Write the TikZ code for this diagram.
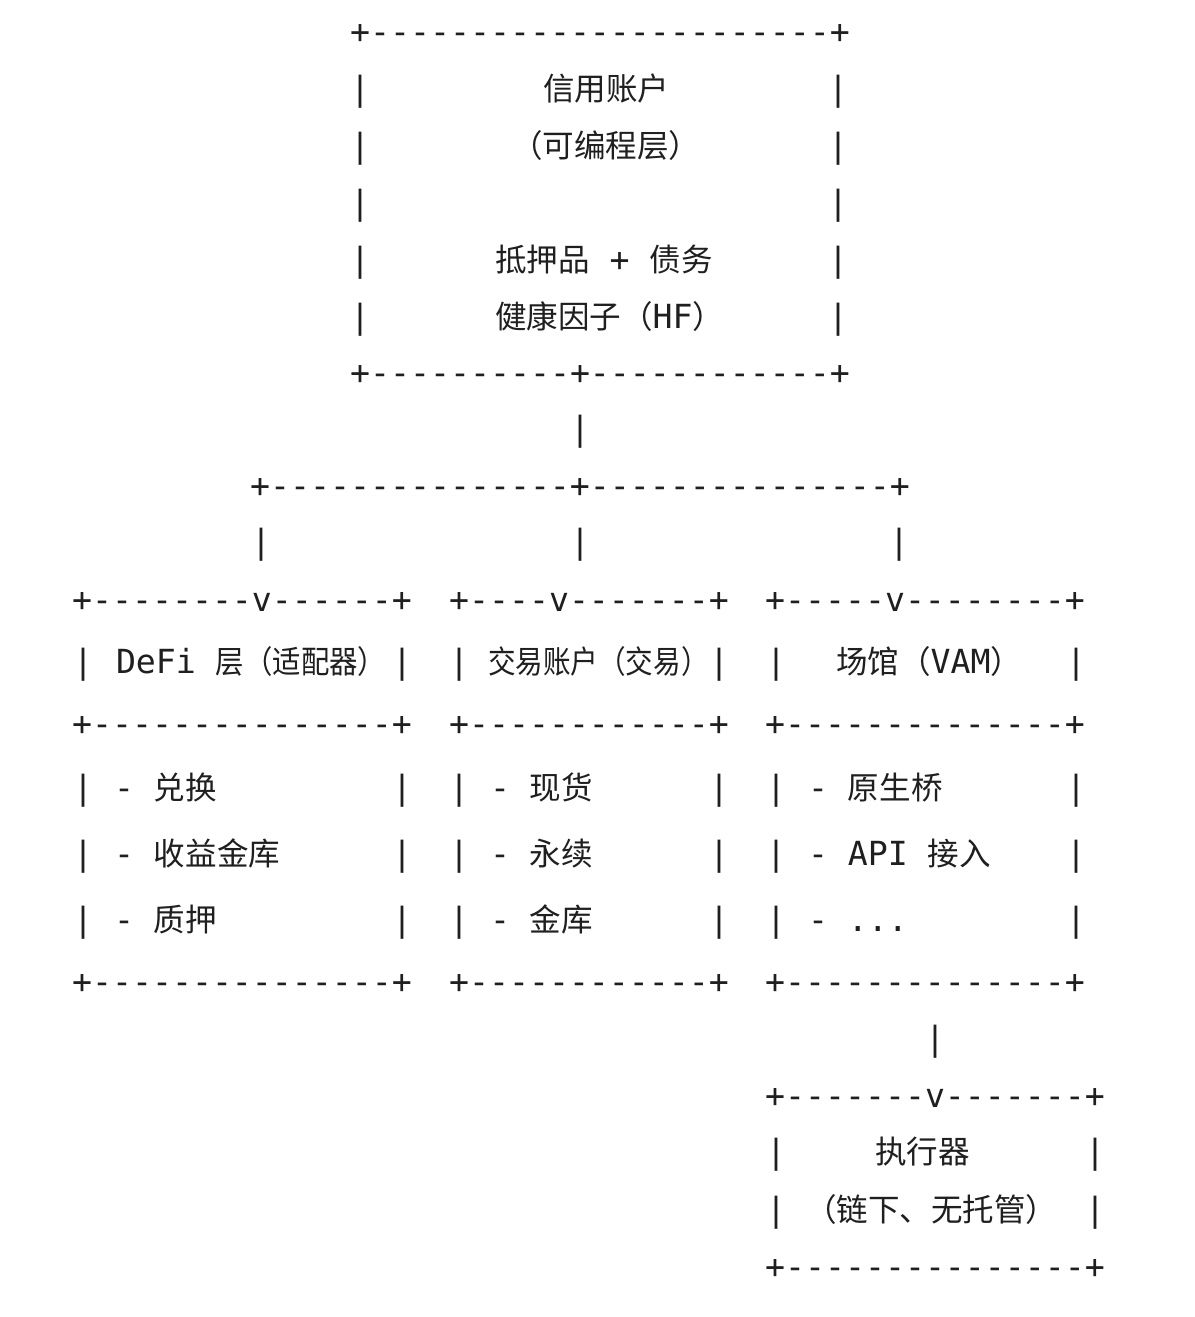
\documentclass[tikz,border=0pt]{standalone}
\usepackage{fontspec}
\usepackage{graphicx}
\setmonofont{DejaVu Sans Mono}
\newfontfamily\cjk[Scale=0.95]{Noto Sans CJK SC}
\newcommand{\zh}[1]{{\cjk #1}}

\tikzstyle{ascii}=[font=\ttfamily\fontsize{16.6}{20}\selectfont, text=black!88, inner sep=0pt, outer sep=0pt, anchor=base, yshift=-5pt]
\tikzstyle{vbar}=[ascii]
\tikzstyle{txt}=[ascii, anchor=base west]

\begin{document}
\begin{tikzpicture}[x=0.5pt, y=-0.5pt]
    \path[use as bounding box, fill=white] (0,0) rectangle (1194,1317);
    % First the dashed rows of the boxes
    \foreach \pos/\name/\s in {{(600,33)/top/+-----------------------+},
                               {(600,374)/mid/+----------+------------+},
                               {(580,487)/fork/+---------------+---------------+},
                               {(242,601)/defiT/+--------v------+},
                               {(589,601)/tradeT/+----v-------+},
                               {(925,601)/venueT/+-----v--------+},
                               {(242,725)/defiM/+---------------+},
                               {(589,725)/tradeM/+------------+},
                               {(925,725)/venueM/+--------------+},
                               {(242,983)/defiB/+---------------+},
                               {(589,983)/tradeB/+------------+},
                               {(925,983)/venueB/+--------------+},
                               {(935,1097)/execT/+-------v-------+},
                               {(935,1268)/execB/+---------------+}}
        \node[ascii] (\name) at \pos {\s};
    % Side bars
    \foreach \y in {90,147,204,261,318}
        \foreach \x in {360,838}
            \node[vbar] (v\x-\y) at (\x,\y) {|};
    \node[vbar] (stem) at (580,430) {|};
    \foreach \x in {261,580,899}
        \node[vbar] (leg\x) at (\x,543) {|};
    \foreach \y in {663,789,855,921}
        \foreach \x in {83,402,459,719,776,1076}
            \node[vbar] (v\x-\y) at (\x,\y) {|};
    \node[vbar] (down) at (935,1040) {|};
    \foreach \y in {1153,1211}
        \foreach \x in {776,1095}
            \node[vbar] (v\x-\y) at (\x,\y) {|};
    % Texts inside the boxes
    \node[txt] (credit) at (543,90) {\zh{信用账户}};
    \node[txt] (prog) at (511,147) {\zh{（可编程层）}};
    \node[txt] (debt) at (495,261) {\zh{抵押品} + \zh{债务}};
    \node[txt] (hf) at (495,318) {\zh{健康因子（}HF\zh{）}};
    \node[txt] (defi) at (116,663) {DeFi \scalebox{0.9}[1]{\zh{层（适配器）}}};
    \node[txt] (trade) at (488,663) {\scalebox{0.875}[1]{\zh{交易账户（交易）}}};
    \node[txt] (venue) at (836,663) {\zh{场馆（}VAM\zh{）}};
    \foreach \x/\y/\name/\item in {114/789/swap/兑换, 114/855/vault/收益金库, 114/921/stake/质押,
                                   490/789/spot/现货, 490/855/perp/永续, 490/921/tvault/金库,
                                   808/789/bridge/原生桥}
        \node[txt] (\name) at (\x,\y) {- \zh{\item}};
    \node[txt] (api) at (808,855) {- API \zh{接入}};
    \node[txt] (more) at (808,921) {- ...};
    \node[txt] (exec) at (875,1153) {\zh{执行器}};
    \node[txt] (offc) at (805,1211) {\zh{（链下、无托管）}};
\end{tikzpicture}
\end{document}
